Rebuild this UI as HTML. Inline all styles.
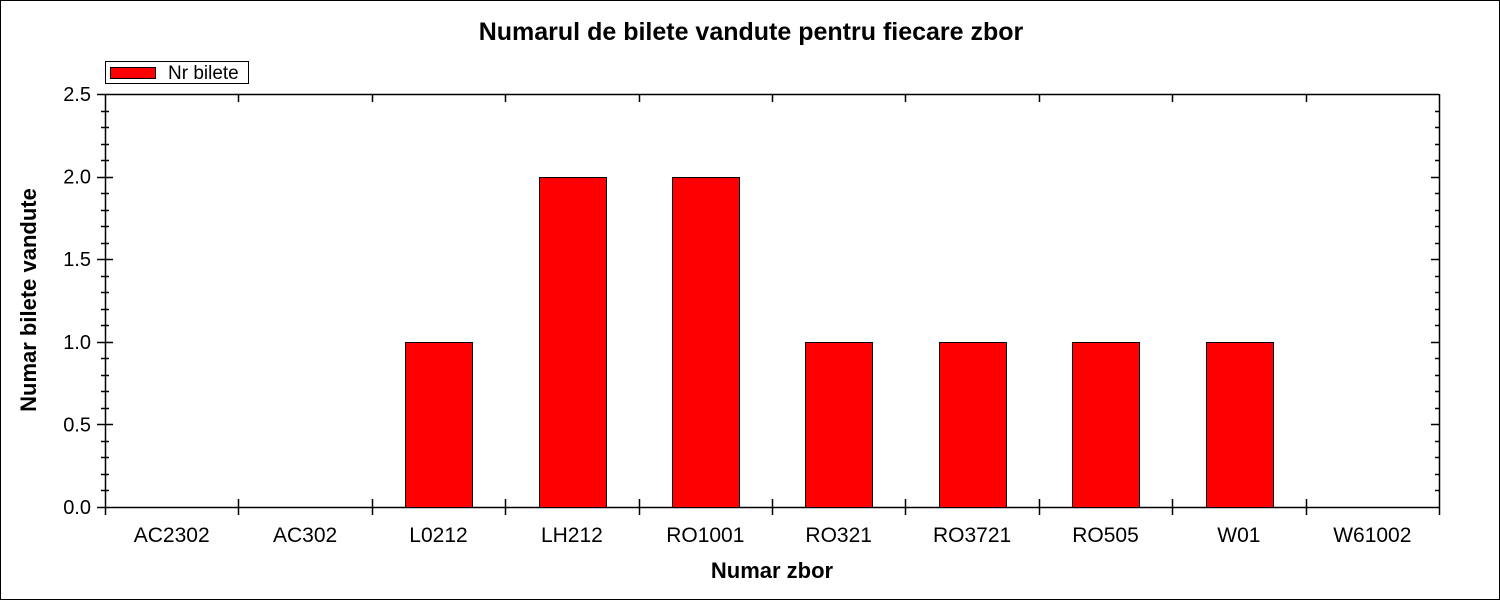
<!DOCTYPE html>
<html><head><meta charset="utf-8"><style>
body{margin:0;background:#fff;}
svg{display:block;font-family:"Liberation Sans",Arial,sans-serif;}
</style></head><body>
<svg id="chart" width="1500" height="600">
<rect x="0.5" y="0.5" width="1499" height="599" fill="#fff" stroke="#000"/>
<text x="751" y="40" text-anchor="middle" font-size="25" font-weight="bold">Numarul de bilete vandute pentru fiecare zbor</text>
<g>
<rect x="105.5" y="61.5" width="143" height="22" fill="#fff" stroke="#000"/>
<rect x="110.5" y="67.5" width="45" height="11" fill="#ff0000" stroke="#000"/>
<text x="168" y="79" font-size="19">Nr bilete</text>
</g>
<g id="axes"></g>
<g id="bars"></g>
<text x="772" y="578" text-anchor="middle" font-size="22" font-weight="bold">Numar zbor</text>
<text transform="translate(36,300) rotate(-90)" text-anchor="middle" font-size="22" font-weight="bold">Numar bilete vandute</text>
</svg>
<script>
const categories=["AC2302","AC302","L0212","LH212","RO1001","RO321","RO3721","RO505","W01","W61002"];
const values=[0,0,1,2,2,1,1,1,1,0];
const yTicks=[0,0.5,1,1.5,2,2.5];
const yLabels=["0.0","0.5","1.0","1.5","2.0","2.5"];
const L=105,R=1439,T=94,B=507,yMax=2.5;
const NS="http://www.w3.org/2000/svg";
const y=v=>B-(v/yMax)*(B-T);
const bw=(R-L)/categories.length;
const x=i=>L+i*bw;
const axes=document.getElementById('axes'),bars=document.getElementById('bars');
function mk(tag,attrs,parent){const e=document.createElementNS(NS,tag);for(const k in attrs)e.setAttribute(k,attrs[k]);parent.appendChild(e);return e;}
let d="";
d+=`M${L-8} ${T+.5}H${R}M${L-8} ${B+.5}H${R}M${L+.5} ${T}V${B+8}M${R+.5} ${T}V${B+8}`;
for(let v=0;v<=yMax+1e-9;v+=0.1){
  const yy=Math.round(y(v))+.5;
  const major=Math.abs(v*2-Math.round(v*2))<1e-6;
  if(major){d+=`M${L-8} ${yy}H${L+8}M${R-8} ${yy}H${R}`;}
  else{d+=`M${L-4} ${yy}H${L+4}M${R-4} ${yy}H${R}`;}
}
for(let i=1;i<categories.length;i++){const xx=Math.round(x(i))+.5;d+=`M${xx} ${B-8}V${B+8}M${xx} ${T}V${T+8}`;}
const ax=mk('path',{d:d,stroke:'#000','stroke-width':1.5,fill:'none'},axes);


yTicks.forEach((v,i)=>{
  const t=mk('text',{x:L-14,y:y(v)+7,'text-anchor':'end','font-size':20},axes);
  t.textContent=yLabels[i];
  
  
});
categories.forEach((c,i)=>{
  const t=mk('text',{x:x(i)+bw/2,y:542,'text-anchor':'middle','font-size':21},axes);
  t.textContent=c;
  
  
  if(values[i]>0){
    const r=mk('rect',{x:Math.round(x(i)+bw/4)+.5,y:Math.round(y(values[i]))+.5,width:Math.round(bw/2),height:Math.round(B-y(values[i])),fill:'#ff0000',stroke:'#000'},bars);
    
    
  }
});
</script>
</body></html>
